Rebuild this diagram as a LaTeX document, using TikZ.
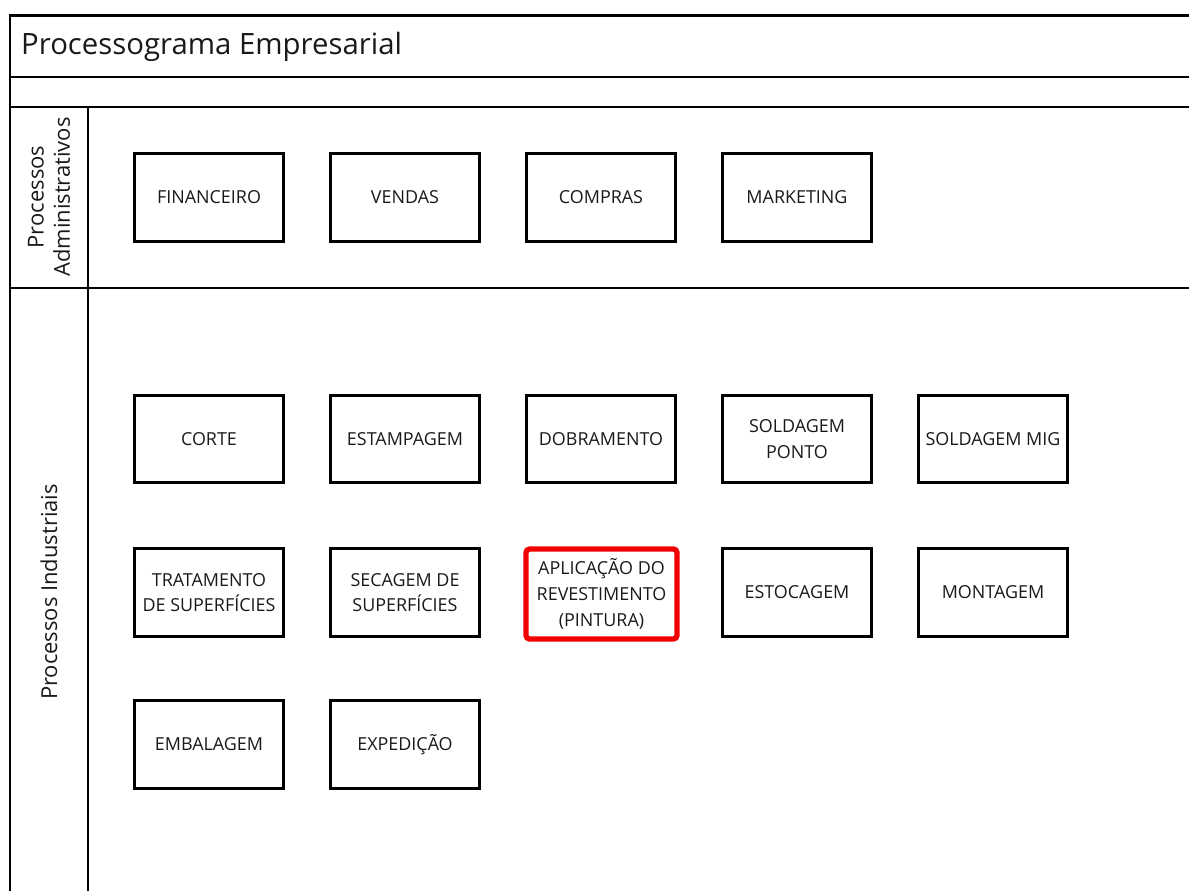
\documentclass[tikz,border=0pt]{standalone}
\usepackage{fontspec}
\setmainfont{Open Sans}
\usepackage{xcolor}
\usetikzlibrary{positioning}
\definecolor{destaque}{RGB}{240,0,0}
\tikzset{
  linha/.style={line width=1.7pt,black},
  caixa/.style={draw,line width=1.7pt,minimum width=2.98cm,minimum height=1.76cm,align=center,font=\fontsize{10.2}{14.6}\selectfont,text=black!90,inner sep=1pt},
  rotulo/.style={rotate=90,align=center,font=\fontsize{12.5}{15}\selectfont,text=black!90}
}
\begin{document}
\begin{tikzpicture}[x=0.02cm,y=-0.02cm]
        \useasboundingbox (0,0) rectangle (1189,891);
        % moldura
        \draw[linha] (1189,16) -- (10,16) -- (10,891);
        \draw[linha] (10,77) -- (1189,77);
        \draw[linha] (10,107) -- (1189,107);
        \draw[linha] (10,288) -- (1189,288);
        \draw[linha] (88,107) -- (88,891);
        \node[anchor=west,font=\fontsize{16.7}{19}\selectfont,text=black!90] (titulo) at (15,47) {Processograma Empresarial};
        \node[rotulo] (adm) at (49,197) {Processos\\Administrativos};
        \node[rotulo] (ind) at (49,592) {Processos Industriais};
        % administrativos
        \node[caixa] (fin) at (209,197.5) {FINANCEIRO};
        \node[caixa] (ven) at (405,197.5) {VENDAS};
        \node[caixa] (com) at (601,197.5) {COMPRAS};
        \node[caixa] (mkt) at (797,197.5) {MARKETING};
        % industriais
        \node[caixa] (cor) at (209,439) {CORTE};
        \node[caixa] (est) at (405,439) {ESTAMPAGEM};
        \node[caixa] (dob) at (601,439) {DOBRAMENTO};
        \node[caixa] (spt) at (797,439) {SOLDAGEM\\PONTO};
        \node[caixa,inner sep=0pt] (smig) at (993,439) {SOLDAGEM MIG};
        \node[caixa] (tra) at (209,592.5) {TRATAMENTO\\DE SUPERFÍCIES};
        \node[caixa] (sec) at (405,592.5) {SECAGEM DE\\SUPERFÍCIES};
        \node[caixa,draw=destaque,line width=3pt,rounded corners=2pt,minimum width=3.02cm,minimum height=1.8cm,inner sep=0pt] (apl) at (601.5,594) {APLICAÇÃO DO\\REVESTIMENTO\\(PINTURA)};
        \node[caixa] (etc) at (797,592.5) {ESTOCAGEM};
        \node[caixa] (mon) at (993,592.5) {MONTAGEM};
        \node[caixa] (emb) at (209,744.5) {EMBALAGEM};
        \node[caixa] (exp) at (405,744.5) {EXPEDIÇÃO};
\end{tikzpicture}
\end{document}
